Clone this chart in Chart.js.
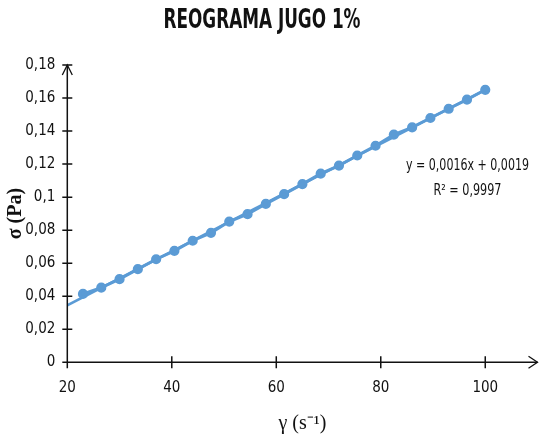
<!DOCTYPE html>
<html>
<head>
<meta charset="utf-8">
<script src="https://cdn.jsdelivr.net/npm/chart.js@4"></script>
<style>
    html, body { margin: 0; padding: 0; background: #fff; }
    #wrap { width: 539px; height: 440px; }
</style>
</head>
<body>
<div id="wrap"><canvas id="reograma"></canvas></div>
<script>
// shear rate (s^-1) and shear stress (Pa)
const shearRate = [23, 26.5, 30, 33.5, 37, 40.5, 44, 47.5, 51, 54.5, 58, 61.5,
                   65, 68.5, 72, 75.5, 79, 82.5, 86, 89.5, 93, 96.5, 100];
const shearStress = [0.0414, 0.0452, 0.0503, 0.0564, 0.0624, 0.0675, 0.0736, 0.0784,
                     0.0852, 0.0897, 0.0959, 0.1018, 0.1079, 0.1142, 0.1191, 0.1252,
                     0.1311, 0.1378, 0.1422, 0.1479, 0.1535, 0.1590, 0.1650];
const trendX = [20, 100];
const xTicks = [20, 40, 60, 80, 100];
const yTicks = [0, 0.02, 0.04, 0.06, 0.08, 0.1, 0.12, 0.14, 0.16, 0.18];
const eqText = ["y = 0,0016x + 0,0019", "R\u00B2 = 0,9997"];

const narrow = "'Liberation Sans Narrow', 'DejaVu Sans Condensed', sans-serif";
const blue = "#5B9BD5";

const comma = v => String(+Number(v).toFixed(4)).replace(".", ",");

// least squares line through the points, like the spreadsheet trendline
function linearFit(xs, ys) {
    const n = xs.length;
    const mx = xs.reduce((a, b) => a + b, 0) / n;
    const my = ys.reduce((a, b) => a + b, 0) / n;
    let sxy = 0, sxx = 0;
    xs.forEach((x, i) => { sxy += (x - mx) * (ys[i] - my); sxx += (x - mx) * (x - mx); });
    const m = sxy / sxx;
    return { m: m, b: my - m * mx };
}
const fit = linearFit(shearRate, shearStress);

// text squeezed to a width, the original fonts are condensed
function squeezed(ctx, text, cx, cy, width) {
    const w = ctx.measureText(text).width;
    const sx = Math.min(1, width / w);
    ctx.save();
    ctx.translate(cx, cy);
    ctx.scale(sx, 1);
    ctx.fillText(text, 0, 0);
    ctx.restore();
}

// title, axes with crossing ticks and arrowheads, trendline label
const decor = {
    id: "decor",
    afterDraw(chart) {
        const { ctx } = chart;
        const xs = chart.scales.x, ys = chart.scales.y;
        const x0 = xs.getPixelForValue(20);
        const y0 = ys.getPixelForValue(0);
        const top = ys.getPixelForValue(0.18);
        const right = xs.right;

        ctx.save();
        ctx.strokeStyle = "#111";
        ctx.lineWidth = 1.5;
        ctx.beginPath();
        ctx.moveTo(x0, y0); ctx.lineTo(x0, top);
        ctx.moveTo(x0, y0); ctx.lineTo(right, y0);
        yTicks.forEach(v => {
            const p = ys.getPixelForValue(v);
            ctx.moveTo(x0 - 5, p); ctx.lineTo(x0 + 5, p);
        });
        xTicks.forEach(v => {
            const p = xs.getPixelForValue(v);
            ctx.moveTo(p, y0 - 6); ctx.lineTo(p, y0 + 6);
        });
        ctx.stroke();

        ctx.lineWidth = 1.3;
        ctx.beginPath();
        ctx.moveTo(x0 - 5, top + 10); ctx.lineTo(x0, top); ctx.lineTo(x0 + 5, top + 10);
        ctx.moveTo(right - 9, y0 - 6); ctx.lineTo(right, y0); ctx.lineTo(right - 9, y0 + 6);
        ctx.stroke();

        ctx.fillStyle = "#111";
        ctx.textAlign = "center";
        ctx.textBaseline = "middle";
        ctx.font = "bold 26px " + narrow;
        squeezed(ctx, "REOGRAMA JUGO 1%", 262, 21, 197);

        ctx.font = "15px " + narrow;
        squeezed(ctx, eqText[0], xs.getPixelForValue(96.6), ys.getPixelForValue(0.1186), 123);
        squeezed(ctx, eqText[1], xs.getPixelForValue(96.6), ys.getPixelForValue(0.1038), 68);
        ctx.restore();
    }
};

new Chart(document.getElementById("reograma"), {
    type: "scatter",
    data: {
        datasets: [
            {
                label: "Datos",
                data: shearRate.map((x, i) => ({ x: x, y: shearStress[i] })),
                showLine: true,
                borderColor: blue,
                backgroundColor: blue,
                borderWidth: 3,
                pointRadius: 3.6,
                pointHoverRadius: 3.6,
                order: 1
            },
            {
                label: "Lineal",
                data: trendX.map(x => ({ x: x, y: fit.m * x + fit.b })),
                showLine: true,
                borderColor: blue,
                borderWidth: 2.5,
                pointRadius: 0,
                order: 2
            }
        ]
    },
    options: {
        responsive: true,
        maintainAspectRatio: false,
        animation: false,
        layout: { autoPadding: false, padding: { top: 65, right: 1.5, left: 0, bottom: 0 } },
        scales: {
            x: {
                type: "linear",
                min: 20,
                max: 110,
                afterBuildTicks: s => { s.ticks = xTicks.map(v => ({ value: v })); },
                afterFit: s => { s.height = 77.7; s.paddingLeft = 0; s.paddingRight = 0; },
                grid: { display: false, drawTicks: false },
                border: { display: false },
                ticks: {
                    color: "#111",
                    padding: 17,
                    font: { family: narrow, size: 15 },
                    callback: v => comma(v)
                },
                title: {
                    display: true,
                    text: "\u03B3 (s\u207B\u00B9)",
                    color: "#111",
                    font: { family: "'Liberation Serif', serif", size: 20 },
                    padding: { top: 12 }
                }
            },
            y: {
                min: 0,
                max: 0.18,
                afterBuildTicks: s => { s.ticks = yTicks.map(v => ({ value: v })); },
                afterFit: s => { s.width = 67.3; s.paddingTop = 0; s.paddingBottom = 0; },
                grid: { display: false, drawTicks: false },
                border: { display: false },
                ticks: {
                    color: "#111",
                    padding: 12,
                    font: { family: narrow, size: 15 },
                    callback: v => comma(v)
                },
                title: {
                    display: true,
                    text: "\u03C3 (Pa)",
                    color: "#111",
                    font: { family: "'Liberation Serif', serif", size: 20, weight: "bold" },
                    padding: { bottom: 4 }
                }
            }
        },
        plugins: {
            legend: { display: false },
            tooltip: { enabled: false },
            title: { display: false }
        }
    },
    plugins: [decor]
});
</script>
</body>
</html>
